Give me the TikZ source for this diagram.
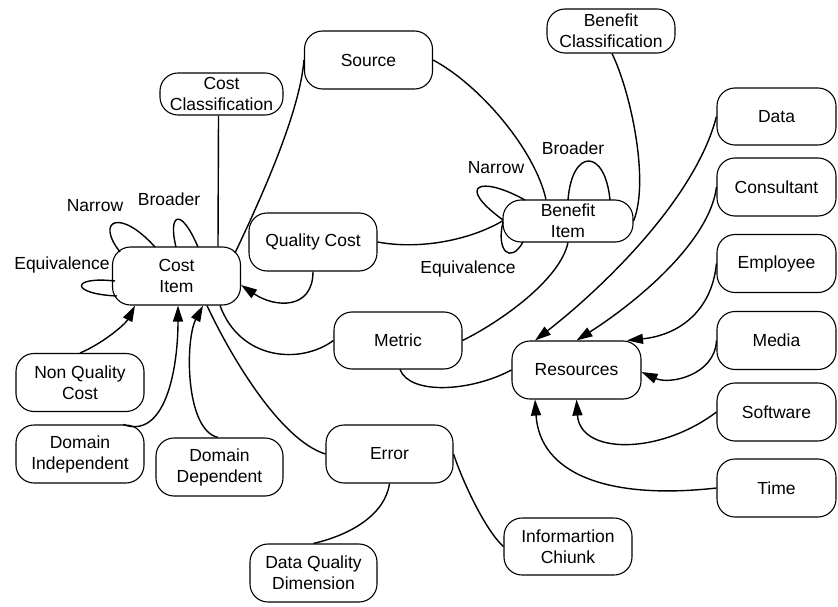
\documentclass[tikz,border=0pt]{standalone}
\usepackage{fontspec}
\setmainfont{Liberation Sans}
\usetikzlibrary{arrows.meta}
\begin{document}
\begin{tikzpicture}[x=1pt,y=-1pt,
  box/.style={draw, rounded corners=18pt, line width=1.1pt, align=center, inner sep=0pt,
    minimum width=128pt, minimum height=58pt, font=\fontsize{17.5}{21}\selectfont},
  lbl/.style={inner sep=0pt, font=\fontsize{17.5}{21}\selectfont},
  conn/.style={line width=1.4pt},
  arr/.style={line width=1.4pt, arrows={-Triangle[length=16pt,width=10pt]}}
]
\useasboundingbox (0,0) rectangle (838,607);
% nodes
\node[box] (ci) at (176.5,276) {Cost\\Item};
\node[box, minimum width=123pt, minimum height=42pt] (cc) at (221.5,94) {Cost\\Classification};
\node[box] (src) at (368.5,60) {Source};
\node[box, minimum height=44pt] (bc) at (611,31) {Benefit\\Classification};
\node[box, minimum width=130pt, minimum height=42pt] (bi) at (568,221) {Benefit\\Item};
\node[box] (qc) at (313,242) {Quality Cost};
\node[box, minimum height=57pt] (met) at (398,340.5) {Metric};
\node[box, minimum width=129pt] (res) at (576.5,370) {Resources};
\node[box, minimum width=119pt, minimum height=57pt] (data) at (776.5,116.5) {Data};
\node[box, minimum width=119pt] (cons) at (776.5,187) {Consultant};
\node[box, minimum width=119pt] (emp) at (776.5,263.5) {Employee};
\node[box, minimum width=119pt] (media) at (776.5,340.5) {Media};
\node[box, minimum width=119pt] (soft) at (776.5,412) {Software};
\node[box, minimum width=119pt] (time) at (776.5,488) {Time};
\node[box] (nqc) at (80,382.5) {Non Quality\\Cost};
\node[box] (di) at (80,454) {Domain\\Independent};
\node[box, minimum width=127pt] (dd) at (219.5,467) {Domain\\Dependent};
\node[box, minimum width=127pt] (err) at (389.5,454) {Error};
\node[box, minimum width=127pt] (dqd) at (313.5,573) {Data Quality\\Dimension};
\node[box, minimum height=57pt] (ic) at (568,546.5) {Informartion\\Chiunk};
% loop labels
\node[lbl] (ln1) at (95,206) {Narrow};
\node[lbl] (lb1) at (169,199) {Broader};
\node[lbl] (le1) at (62,265) {Equivalence};
\node[lbl] (ln2) at (496,168) {Narrow};
\node[lbl] (lb2) at (573,148) {Broader};
\node[lbl] (le2) at (468,269) {Equivalence};
% loops on Cost Item
\draw[conn] ([shift={(-56.5,-24)}]ci.center) .. controls (95,220) and (120,208) .. ([shift={(-21.5,-29)}]ci.center);
\draw[conn] ([shift={(-0.5,-29)}]ci.center) .. controls (168,215) and (180,205) .. ([shift={(21.5,-29)}]ci.center);
\draw[conn] ([shift={(-61.5,5)}]ci.center) .. controls (70,276) and (70,294) .. ([shift={(-59.5,20)}]ci.center);
% loops on Benefit Item
\draw[conn] ([shift={(-43,-21)}]bi.center) .. controls (480,175) and (455,185) .. ([shift={(-65,-1)}]bi.center);
\draw[conn] ([shift={(0,-21)}]bi.center) .. controls (572,148) and (605,148) .. ([shift={(42,-21)}]bi.center);
\draw[conn] ([shift={(-65,1)}]bi.center) .. controls (496,250) and (510,265) .. ([shift={(-45,21)}]bi.center);
% connectors
\draw[conn] ([xshift=-3pt]cc.south) -- ([xshift=41.5pt]ci.north);
\draw[conn] (src.west) .. controls (300,110) and (265,190) .. ([shift={(58.5,-23)}]ci.center);
\draw[conn] (src.east) .. controls (480,85) and (535,150) .. ([xshift=-22pt]bi.north);
\draw[conn] ([xshift=1pt]bc.south) .. controls (630,90) and (650,180) .. (bi.east);
\draw[conn] (qc.east) .. controls (420,250) and (470,240) .. (bi.west);
\draw[arr] (qc.south) .. controls (313,310) and (275,308) .. ([yshift=-9pt]ci.east);
\draw[conn] (met.west) .. controls (300,365) and (240,360) .. ([xshift=43.5pt]ci.south);
\draw[conn] (met.east) .. controls (500,322) and (560,280) .. (bi.south);
\draw[conn] ([xshift=2pt]met.south) .. controls (410,395) and (470,392) .. (res.west);
\draw[conn] ([xshift=30.5pt]ci.south) .. controls (230,355) and (280,440) .. (err.west);
\draw[arr] (nqc.north) .. controls (100,345) and (125,325) .. ([xshift=-41.5pt]ci.south);
\draw[arr] ([xshift=43pt]di.north) .. controls (165,440) and (178,370) .. ([xshift=1.5pt]ci.south);
\draw[arr] ([xshift=-1.5pt]dd.north) .. controls (185,430) and (185,340) .. ([xshift=26.5pt]ci.south);
\draw[conn] (err.south) .. controls (385,515) and (350,535) .. (dqd.north);
\draw[conn] (err.east) .. controls (462,480) and (485,530) .. (ic.west);
\draw[arr] (data.west) .. controls (695,200) and (600,290) .. ([xshift=-41.5pt]res.north);
\draw[arr] (cons.west) .. controls (710,240) and (640,300) .. (res.north);
\draw[arr] (emp.west) .. controls (712,310) and (680,335) .. ([xshift=50.5pt]res.north);
\draw[arr] (media.west) .. controls (715,375) and (670,385) .. ([yshift=-2pt]res.east);
\draw[arr] (soft.west) .. controls (660,455) and (580,455) .. (res.south);
\draw[arr] (time.west) .. controls (610,500) and (540,475) .. ([xshift=-41.5pt]res.south);
\end{tikzpicture}
\end{document}
